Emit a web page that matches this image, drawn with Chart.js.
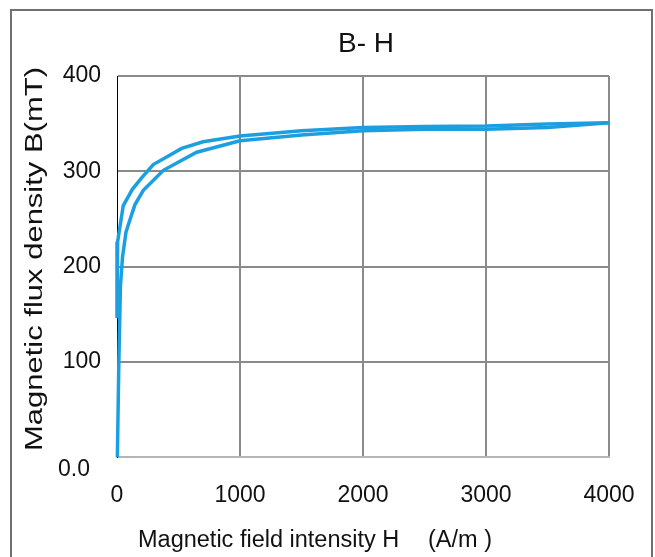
<!DOCTYPE html>
<html>
<head>
<meta charset="utf-8">
<script src="https://cdn.jsdelivr.net/npm/chart.js@4"></script>
<style>
  html, body { margin: 0; padding: 0; background: #fff; }
  #wrap { width: 655px; height: 557px; }
</style>
</head>
<body>
<div id="wrap"><canvas id="c" width="655" height="557"></canvas></div>
<script>
// ---- data ----
const chartTitle = 'B- H';
const xTitle = 'Magnetic field intensity H';
const xUnit = '(A/m )';
const yTitle = 'Magnetic flux density B(mT)';
const xTicks = [0, 1000, 2000, 3000, 4000];
const yTicks = [0, 100, 200, 300, 400];
// ascending (initial) branch
const H_up = [3, 15, 28, 45, 73, 90, 146, 214, 377, 648, 1000, 1500, 2000, 2500, 3000, 3500, 4000];
const B_up = [0, 100, 180, 210, 236, 243, 265, 280, 301, 320, 332, 338, 342.5, 344, 344, 346, 351];
// descending branch
const H_down = [4000, 3500, 3000, 2500, 2000, 1500, 1000, 700, 526, 295, 200, 125, 51, 5, 0];
const B_down = [351, 349.5, 347.5, 347, 346, 342.5, 337, 331, 324, 307, 293, 281, 264, 226, 146];

const FONT = '"Liberation Sans", Arial, sans-serif';
const lineColor = '#1c9fe0';
const textColor = '#111';

const toPts = (xs, ys) => xs.map((x, i) => ({ x: x, y: ys[i] }));

const decor = {
  id: 'decor',
  beforeDraw(chart) {
    const ctx = chart.ctx;
    ctx.save();
    ctx.fillStyle = '#fff';
    ctx.fillRect(0, 0, chart.width, chart.height);
    ctx.strokeStyle = '#707070';
    ctx.lineWidth = 2;
    ctx.strokeRect(11, 10, 641, 600);
    ctx.restore();
  },
  afterDraw(chart) {
    const ctx = chart.ctx;
    const ys = chart.scales.y;
    ctx.save();
    ctx.fillStyle = textColor;
    // title
    ctx.font = '28px ' + FONT;
    ctx.textAlign = 'center';
    ctx.textBaseline = 'middle';
    ctx.fillText(chartTitle, 366, 44);
    // x title
    ctx.font = '23.5px ' + FONT;
    ctx.textAlign = 'left';
    ctx.fillText(xTitle, 138, 541);
    ctx.fillText(xUnit, 428, 541);
    // y title (rotated)
    ctx.save();
    ctx.translate(36, 259);
    ctx.rotate(-Math.PI / 2);
    ctx.textAlign = 'center';
    ctx.font = '23.5px ' + FONT;
    const w = ctx.measureText(yTitle).width;
    const target = 384;
    ctx.scale(target / w, 1);
    ctx.fillText(yTitle, 0, 0);
    ctx.restore();
    // special zero label on y axis
    ctx.font = '23px ' + FONT;
    ctx.textAlign = 'right';
    ctx.fillText('0.0', 90, ys.getPixelForValue(0) + 13);
    ctx.restore();
  }
};

new Chart(document.getElementById('c'), {
  type: 'scatter',
  data: {
    datasets: [
      { data: toPts(H_up, B_up), showLine: true, borderColor: lineColor, borderWidth: 3.5, pointRadius: 0, tension: 0, clip: 6 },
      { data: toPts(H_down, B_down), showLine: true, borderColor: lineColor, borderWidth: 3.5, pointRadius: 0, tension: 0, clip: 6 }
    ]
  },
  options: {
    responsive: false,
    animation: false,
    devicePixelRatio: 1,
    layout: { padding: { left: 0, right: 46, top: 76, bottom: 0 } },
    plugins: { legend: { display: false }, title: { display: false }, tooltip: { enabled: false } },
    scales: {
      x: {
        type: 'linear', min: 0, max: 4000,
        afterBuildTicks(s) { s.ticks = xTicks.map(v => ({ value: v })); },
        afterFit(s) { s.height = 100; s.paddingRight = 0; s.paddingLeft = 0; },
        ticks: { font: { size: 23, family: FONT }, color: textColor, padding: 25, maxRotation: 0,
                 callback: v => String(v) },
        grid: { color: c => (c.tick && c.tick.value === 0) ? 'rgba(0,0,0,0)' : '#8a8a8a', lineWidth: 2, drawTicks: false },
        border: { color: '#b4b4b4', width: 2 }
      },
      y: {
        type: 'linear', min: 0, max: 400,
        afterBuildTicks(s) { s.ticks = yTicks.map(v => ({ value: v })); },
        afterFit(s) { s.width = 117; s.paddingTop = 0; s.paddingBottom = 0; },
        ticks: { font: { size: 23, family: FONT }, color: textColor, padding: 16,
                 callback: v => v === 0 ? '' : String(v) },
        grid: { color: c => (c.tick && c.tick.value === 0) ? 'rgba(0,0,0,0)' : '#8a8a8a', lineWidth: 2, drawTicks: false },
        border: { color: '#000', width: 1 }
      }
    }
  },
  plugins: [decor]
});
</script>
</body>
</html>
